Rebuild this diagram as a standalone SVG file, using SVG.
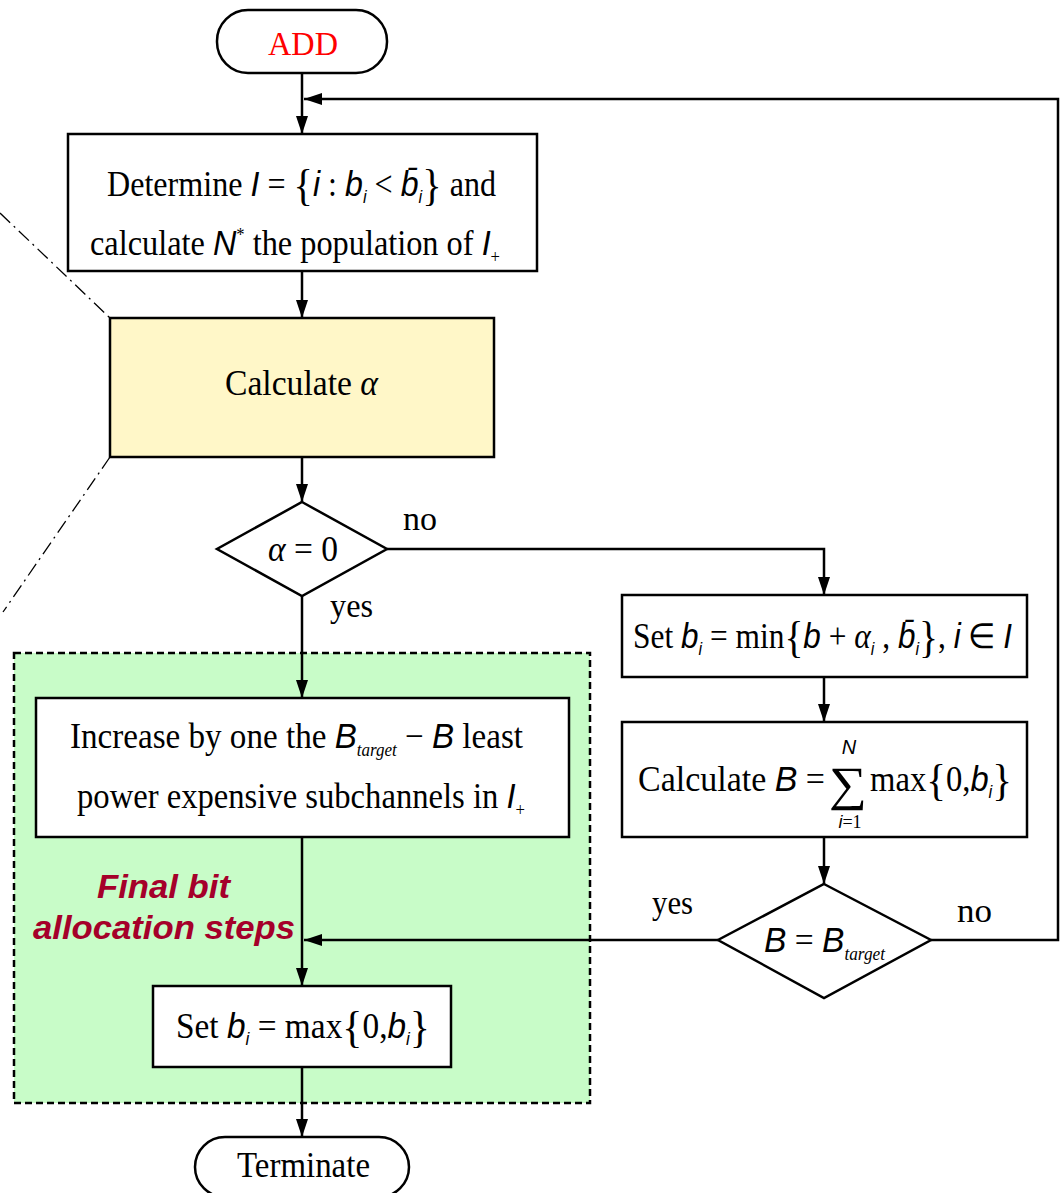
<svg xmlns="http://www.w3.org/2000/svg" width="1063" height="1193" viewBox="0 0 1063 1193">
<style>
.box{fill:#fff;stroke:#000;stroke-width:2.5}
.ln{fill:none;stroke:#000;stroke-width:2.5}
.t{font-family:"Liberation Serif",serif;font-size:35px;fill:#000}
.m{font-family:"Liberation Sans",sans-serif;font-style:italic}
.g{font-family:"Liberation Serif",serif;font-style:italic}
.sub{font-size:18px}
.br{font-size:44px;font-weight:normal}
.lab{font-family:"Liberation Serif",serif;font-size:33px}
.red{font-family:"Liberation Sans",sans-serif;font-weight:bold;font-style:italic;font-size:33px;fill:#A5002A}
</style>
<defs>
<marker id="ah" markerUnits="userSpaceOnUse" markerWidth="18" markerHeight="12" viewBox="0 0 18 12" refX="18" refY="6" orient="auto"><path d="M0,0 L18,6 L0,12 z" fill="#000"/></marker>
</defs>
<rect id="final-region" x="14" y="653" width="576" height="450" fill="#C8FCC8" stroke="#000" stroke-width="2.5" stroke-dasharray="7 4"/>
<g id="zoom-lines" fill="none" stroke="#000" stroke-width="1.3" stroke-dasharray="14 5 2 5">
<path d="M0,213 L110,318"/>
<path d="M110,457 L3,612"/>
</g>
<g id="connectors">
<path class="ln" d="M302,73 V134" marker-end="url(#ah)"/>
<path class="ln" d="M931,940 H1058 V99 H304" marker-end="url(#ah)"/>
<path class="ln" d="M302,271 V318" marker-end="url(#ah)"/>
<path class="ln" d="M302,457 V502" marker-end="url(#ah)"/>
<path class="ln" d="M387,549 H824 V595" marker-end="url(#ah)"/>
<path class="ln" d="M302,596 V698" marker-end="url(#ah)"/>
<path class="ln" d="M302,837 V986" marker-end="url(#ah)"/>
<path class="ln" d="M718,940 H304" marker-end="url(#ah)"/>
<path class="ln" d="M302,1067 V1137" marker-end="url(#ah)"/>
<path class="ln" d="M824,677 V722" marker-end="url(#ah)"/>
<path class="ln" d="M824,837 V884" marker-end="url(#ah)"/>
<text class="lab" x="403" y="530" textLength="34" lengthAdjust="spacingAndGlyphs">no</text>
<text class="lab" x="330" y="617" textLength="43" lengthAdjust="spacingAndGlyphs">yes</text>
<text class="lab" x="652" y="914" textLength="41" lengthAdjust="spacingAndGlyphs">yes</text>
<text class="lab" x="957" y="922" textLength="35" lengthAdjust="spacingAndGlyphs">no</text>
</g>
<g id="start">
<rect x="217" y="10" width="170" height="63" rx="31" class="box"/>
<text class="t" x="268" y="55" textLength="70" lengthAdjust="spacingAndGlyphs" style="fill:#FF0000;font-size:34px">ADD</text>
</g>
<g id="determine">
<rect x="68" y="134" width="469" height="137" class="box"/>
<text class="t" x="107" y="196" textLength="389" lengthAdjust="spacingAndGlyphs">Determine <tspan class="m">I</tspan> = <tspan class="br" dy="4">{</tspan><tspan class="m" dy="-4">i</tspan> : <tspan class="m">b</tspan><tspan class="sub m" dy="7">i</tspan><tspan dy="-7"> &lt; </tspan><tspan class="m">b̄</tspan><tspan class="sub m" dy="7">i</tspan><tspan class="br" dy="-3">}</tspan><tspan dy="-4"> and</tspan></text>
<text class="t" x="90" y="255" textLength="410" lengthAdjust="spacingAndGlyphs">calculate <tspan class="m">N</tspan><tspan class="sub" dy="-14">*</tspan><tspan dy="14"> the population of </tspan><tspan class="m">I</tspan><tspan class="sub" dy="8">+</tspan></text>
</g>
<g id="calc-alpha">
<rect x="110" y="318" width="384" height="139" fill="#FFF7C8" stroke="#000" stroke-width="2.5"/>
<text class="t" x="225" y="395" textLength="153" lengthAdjust="spacingAndGlyphs">Calculate <tspan class="g">α</tspan></text>
</g>
<g id="alpha-zero">
<polygon points="302,502 387,549 302,596 217,549" class="box"/>
<text class="t" x="268" y="561" textLength="70" lengthAdjust="spacingAndGlyphs"><tspan class="g">α</tspan> = 0</text>
</g>
<g id="set-min">
<rect x="622" y="595" width="405" height="82" class="box"/>
<text class="t" x="633" y="648" textLength="379" lengthAdjust="spacingAndGlyphs">Set <tspan class="m">b</tspan><tspan class="sub m" dy="7">i</tspan><tspan dy="-7"> = min</tspan><tspan class="br" dy="4">{</tspan><tspan class="m" dy="-4">b</tspan> + <tspan class="g">α</tspan><tspan class="sub m" dy="7">i</tspan><tspan dy="-7"> , </tspan><tspan class="m">b̄</tspan><tspan class="sub m" dy="7">i</tspan><tspan class="br" dy="-3">}</tspan><tspan dy="-4">, </tspan><tspan class="m">i</tspan> ∈ <tspan class="m">I</tspan></text>
</g>
<g id="calc-B">
<rect x="622" y="722" width="405" height="115" class="box"/>
<text class="t" x="638" y="791" textLength="187" lengthAdjust="spacingAndGlyphs">Calculate  <tspan class="m">B</tspan> = </text>
<text class="t" x="829" y="800" style="font-size:48px" textLength="38" lengthAdjust="spacingAndGlyphs">∑</text>
<text class="t m" x="849" y="754" style="font-size:20px" text-anchor="middle">N</text>
<text class="t" x="850" y="828" style="font-size:18px" text-anchor="middle"><tspan class="m">i</tspan>=1</text>
<text class="t" x="870" y="791" textLength="142" lengthAdjust="spacingAndGlyphs">max<tspan class="br" dy="4">{</tspan><tspan dy="-4">0,</tspan><tspan class="m">b</tspan><tspan class="sub m" dy="7">i</tspan><tspan class="br" dy="-3">}</tspan></text>
</g>
<g id="B-target">
<polygon points="824,884 931,940 824,998 718,940" class="box"/>
<text class="t" x="764" y="952" textLength="121" lengthAdjust="spacingAndGlyphs"><tspan class="m">B</tspan> = <tspan class="m">B</tspan><tspan class="sub g" dy="8">target</tspan></text>
</g>
<g id="increase">
<rect x="36" y="698" width="533" height="139" class="box"/>
<text class="t" x="70" y="748" textLength="453" lengthAdjust="spacingAndGlyphs">Increase by one the <tspan class="m">B</tspan><tspan class="sub g" dy="8">target</tspan><tspan dy="-8"> − </tspan><tspan class="m">B</tspan> least</text>
<text class="t" x="77" y="808" textLength="448" lengthAdjust="spacingAndGlyphs">power expensive subchannels in <tspan class="m">I</tspan><tspan class="sub" dy="8">+</tspan></text>
</g>
<g id="final-label">
<text class="red" x="97" y="898" textLength="133" lengthAdjust="spacingAndGlyphs">Final bit</text>
<text class="red" x="33" y="939" textLength="262" lengthAdjust="spacingAndGlyphs">allocation steps</text>
</g>
<g id="set-max">
<rect x="153" y="986" width="298" height="81" class="box"/>
<text class="t" x="176" y="1038" textLength="254" lengthAdjust="spacingAndGlyphs">Set <tspan class="m">b</tspan><tspan class="sub m" dy="7">i</tspan><tspan dy="-7"> = max</tspan><tspan class="br" dy="4">{</tspan><tspan dy="-4">0,</tspan><tspan class="m">b</tspan><tspan class="sub m" dy="7">i</tspan><tspan class="br" dy="-3">}</tspan></text>
</g>
<g id="terminate">
<rect x="195" y="1137" width="214" height="60" rx="30" class="box"/>
<text class="t" x="237" y="1177" textLength="133" lengthAdjust="spacingAndGlyphs">Terminate</text>
</g>
</svg>
